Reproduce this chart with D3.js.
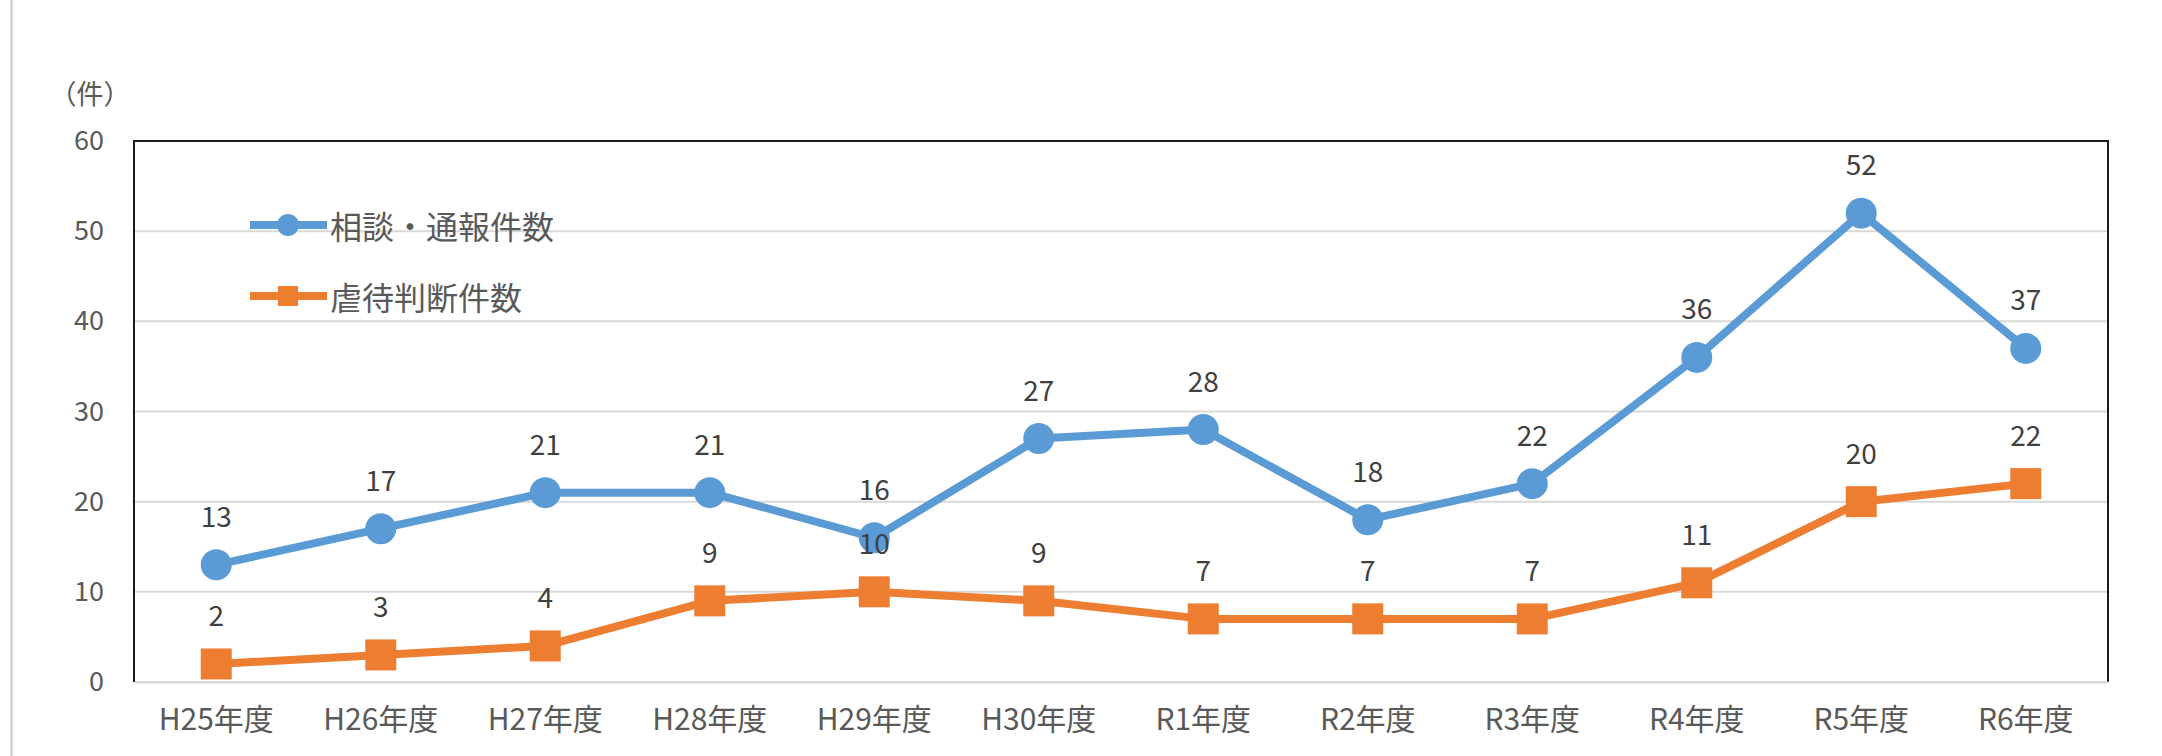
<!DOCTYPE html>
<html>
<head>
<meta charset="utf-8">
<script src="https://cdn.jsdelivr.net/npm/d3@7"></script>
<style>
  body { margin: 0; background: #fff; }
  svg text { font-family: "Noto Sans CJK JP", "Noto Sans", sans-serif; }
</style>
</head>
<body>
<div id="chart"></div>
<script>
// chart data
var years = ['H25年度', 'H26年度', 'H27年度', 'H28年度', 'H29年度', 'H30年度',
  'R1年度', 'R2年度', 'R3年度', 'R4年度', 'R5年度', 'R6年度'];
var consults = [13, 17, 21, 21, 16, 27, 28, 18, 22, 36, 52, 37];
var abuses = [2, 3, 4, 9, 10, 9, 7, 7, 7, 11, 20, 22];
var yTicks = [0, 10, 20, 30, 40, 50, 60];
var seriesNames = ['相談・通報件数', '虐待判断件数'];

var colors = ['#5b9bd5', '#ed7d31'];

var W = 2162, H = 756;
var margin = { top: 141, right: 54, bottom: 74, left: 134 };
var width = W - margin.left - margin.right;
var height = H - margin.top - margin.bottom;

var svg = d3.select("#chart").append("svg")
  .attr("width", W)
  .attr("height", H);

// thin page rule at the far left
svg.append("line")
  .attr("x1", 11.5).attr("x2", 11.5)
  .attr("y1", 0).attr("y2", H)
  .attr("stroke", "#c8c8c8").attr("stroke-width", 2);

var g = svg.append("g")
  .attr("transform", "translate(" + margin.left + "," + margin.top + ")");

var x = d3.scaleBand().domain(years).range([0, width]).padding(0);
var y = d3.scaleLinear().domain([0, 60]).range([height, 0]);
var cx = function(i) { return x(years[i]) + x.bandwidth() / 2; };

// gridlines
g.selectAll(".grid")
  .data(yTicks)
  .enter()
  .append("line")
  .attr("x1", 0).attr("x2", width)
  .attr("y1", function(d) { return y(d); })
  .attr("y2", function(d) { return y(d); })
  .attr("stroke", "#d9d9d9").attr("stroke-width", 2);

// frame (left, top, right black)
g.append("path")
  .attr("d", "M0," + height + "V0H" + width + "V" + height)
  .attr("fill", "none").attr("stroke", "#1a1a1a").attr("stroke-width", 2);

// y axis labels
var yAxis = d3.axisLeft(y).tickValues(yTicks).tickSize(0).tickPadding(30);
g.append("g").call(yAxis)
  .call(function(s) { s.select(".domain").remove(); })
  .selectAll("text")
  .attr("fill", "#595959")
  .style("font-size", "27px");

// x axis labels
var xAxis = d3.axisBottom(x).tickSize(0).tickPadding(27);
g.append("g").attr("transform", "translate(0," + height + ")").call(xAxis)
  .call(function(s) { s.select(".domain").attr("stroke", "#d9d9d9").attr("stroke-width", 2); })
  .selectAll("text")
  .attr("fill", "#595959")
  .style("font-size", "30px");

// unit label
svg.append("text")
  .attr("x", 90).attr("y", 92)
  .attr("text-anchor", "middle")
  .attr("dominant-baseline", "central")
  .attr("fill", "#595959")
  .style("font-size", "27px")
  .text("（件）");

var line = d3.line()
  .x(function(d, i) { return cx(i); })
  .y(function(d) { return y(d); });

[consults, abuses].forEach(function(vals, k) {
  g.append("path")
    .datum(vals)
    .attr("d", line)
    .attr("fill", "none")
    .attr("stroke", colors[k])
    .attr("stroke-width", 8)
    .attr("stroke-linejoin", "round");
});

// markers
g.selectAll(".dot")
  .data(consults)
  .enter()
  .append("circle")
  .attr("cx", function(d, i) { return cx(i); })
  .attr("cy", function(d) { return y(d); })
  .attr("r", 15.5)
  .attr("fill", colors[0]);

g.selectAll(".sq")
  .data(abuses)
  .enter()
  .append("rect")
  .attr("x", function(d, i) { return cx(i) - 15.5; })
  .attr("y", function(d) { return y(d) - 15.5; })
  .attr("width", 31).attr("height", 31)
  .attr("fill", colors[1]);

// data labels
[consults, abuses].forEach(function(vals) {
  g.selectAll(null)
    .data(vals)
    .enter()
    .append("text")
    .attr("x", function(d, i) { return cx(i); })
    .attr("y", function(d) { return y(d) - 50; })
    .attr("text-anchor", "middle")
    .attr("dominant-baseline", "central")
    .attr("fill", "#404040")
    .style("font-size", "28px")
    .text(function(d) { return d; });
});

// legend
var legend = svg.append("g");
seriesNames.forEach(function(name, k) {
  var ly = 225 + k * 71;
  var lg = legend.append("g").attr("transform", "translate(250," + ly + ")");
  lg.append("line")
    .attr("x1", 0).attr("x2", 77)
    .attr("y1", 0).attr("y2", 0)
    .attr("stroke", colors[k]).attr("stroke-width", 8);
  if (k === 0) {
    lg.append("circle").attr("cx", 38).attr("cy", 0).attr("r", 11).attr("fill", colors[k]);
  } else {
    lg.append("rect").attr("x", 28).attr("y", -10).attr("width", 20).attr("height", 20).attr("fill", colors[k]);
  }
  lg.append("text")
    .attr("x", 80).attr("y", 0)
    .attr("dominant-baseline", "central")
    .attr("fill", "#595959")
    .style("font-size", "32px")
    .text(name);
});
</script>
</body>
</html>
